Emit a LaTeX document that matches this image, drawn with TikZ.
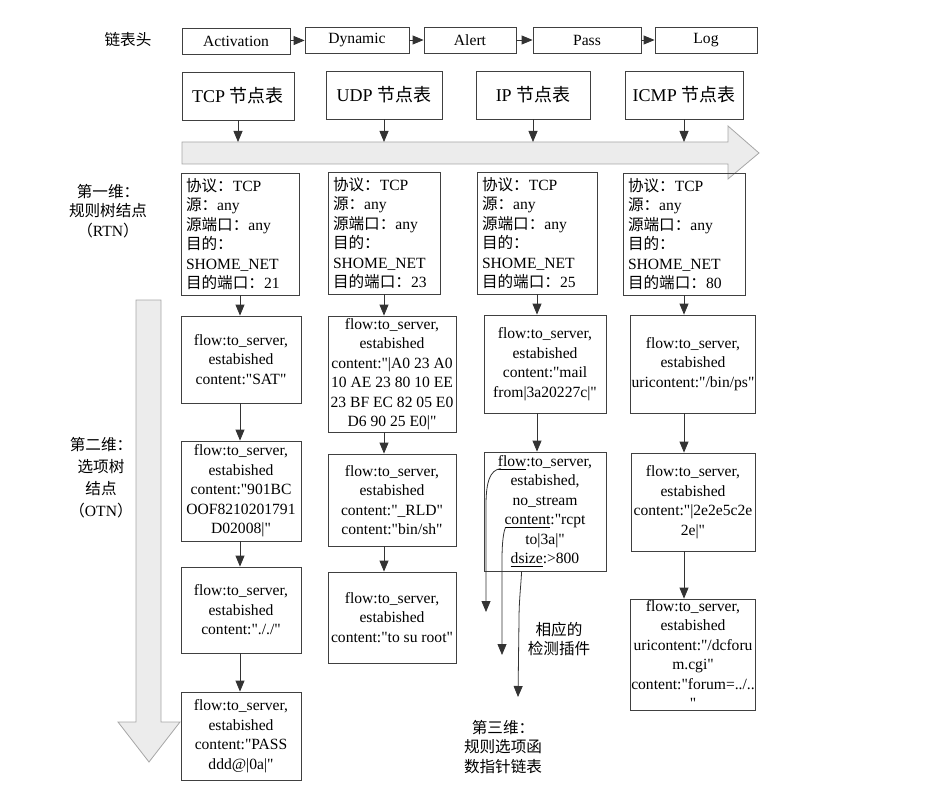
\documentclass[tikz,border=0pt]{standalone}
\usepackage{fontspec}
\setmainfont{Liberation Serif}
\newfontfamily\tnr{Liberation Serif}
\newfontfamily\cjk{Noto Sans CJK SC}
\usetikzlibrary{arrows.meta,calc}

\newcommand{\zh}[1]{{\cjk #1}}

\begin{document}
\begin{tikzpicture}[x=0.5pt, y=-0.5pt, >={Triangle[length=5.5pt,width=4.5pt]}]
    \tikzstyle{chainbox} = [rectangle, draw=black!75, line width=0.4pt, inner sep=0pt, minimum height=13pt, font=\tnr\fontsize{7.8}{9}\selectfont]
    \tikzstyle{headbox} = [rectangle, draw=black!75, line width=0.4pt, inner sep=0pt, minimum height=24pt, font=\tnr\fontsize{9}{11}\selectfont]
    \tikzstyle{rtnbox} = [rectangle, draw=black!75, line width=0.4pt, align=left, inner xsep=2.5pt, inner ysep=1.5pt, minimum height=61pt, font=\tnr\fontsize{7.8}{9.75}\selectfont]
    \tikzstyle{flowbox} = [rectangle, draw=black!75, line width=0.4pt, align=center, inner sep=0.5pt, font=\tnr\fontsize{7.8}{9.75}\selectfont]
    \tikzstyle{sidelabel} = [align=center, inner sep=0pt, font=\tnr\fontsize{7.8}{9.75}\selectfont]
    \tikzstyle{bigarrow} = [draw=gray!70, fill=gray!15, line width=0.4pt]
    \tikzstyle{link} = [->, draw=black!80, line width=0.4pt]

    \useasboundingbox (0,0) rectangle (932,797);

    % Linked list head
    \node[sidelabel] (listhead) at (128,40) {\zh{链表头}};
    \node[chainbox, minimum width=54pt] (act) at (236,41) {Activation};
    \node[chainbox, minimum width=52pt] (dyn) at (357,40) {Dynamic};
    \node[chainbox, minimum width=46pt] (alert) at (470,40) {Alert};
    \node[chainbox, minimum width=54pt] (pass) at (587,40) {Pass};
    \node[chainbox, minimum width=51pt] (logq) at (706,40) {Log};
    \foreach \a/\b in {act/dyn, dyn/alert, alert/pass, pass/logq}
        \draw[link] (\a) -- (\b);

    % Protocol node tables
    \node[headbox, minimum width=56pt] (tcph) at (238,96) {TCP \zh{节点表}};
    \node[headbox, minimum width=58pt] (udph) at (384,95) {UDP \zh{节点表}};
    \node[headbox, minimum width=57pt] (iph) at (533,95) {IP \zh{节点表}};
    \node[headbox, minimum width=59pt] (icmph) at (684,95) {ICMP \zh{节点表}};

    % Big arrows
    \draw[bigarrow] (182,142) -- (728,142) -- (728,126) -- (759,153) -- (728,179) -- (728,164) -- (182,164) -- cycle;
    \draw[bigarrow] (136,300) -- (161,300) -- (161,722) -- (180,722) -- (149,762) -- (118,722) -- (136,722) -- cycle;
    \coordinate (htop) at (0,142);
    \foreach \h in {tcph, udph, iph, icmph}
        \draw[link] (\h) -- (\h |- htop);

    % First dimension: rule tree nodes
    \node[sidelabel] (dim1) at (108,211) {\zh{第一维：}\\\zh{规则树结点}\\\zh{（}RTN\zh{）}};
    \node[rtnbox, text width=54pt] (r1) at (240,234) {\zh{协议：}TCP\\\zh{源：}any\\\zh{源端口：}any\\\zh{目的：}\\SHOME\_NET\\\zh{目的端口：}21};
    \node[rtnbox, text width=51pt] (r2) at (384,233) {\zh{协议：}TCP\\\zh{源：}any\\\zh{源端口：}any\\\zh{目的：}\\SHOME\_NET\\\zh{目的端口：}23};
    \node[rtnbox, text width=55pt] (r3) at (537,233) {\zh{协议：}TCP\\\zh{源：}any\\\zh{源端口：}any\\\zh{目的：}\\SHOME\_NET\\\zh{目的端口：}25};
    \node[rtnbox, text width=56pt] (r4) at (684,234) {\zh{协议：}TCP\\\zh{源：}any\\\zh{源端口：}any\\\zh{目的：}\\SHOME\_NET\\\zh{目的端口：}80};

    % Second dimension: option tree nodes
    \node[sidelabel, font=\tnr\fontsize{7.8}{11}\selectfont] (dim2) at (101,478) {\zh{第二维：}\\\zh{选项树}\\\zh{结点}\\\zh{（}OTN\zh{）}};

    % TCP column
    \node[flowbox, minimum width=60pt, minimum height=43.5pt] (f11) at (241,359.5) {flow:to\_server,\\estabished\\content:"SAT"};
    \node[flowbox, minimum width=60pt, minimum height=50pt] (f12) at (241,491) {flow:to\_server,\\estabished\\content:"901BC\\OOF8210201791\\D02008|"};
    \node[flowbox, minimum width=60pt, minimum height=43pt] (f13) at (241,610) {flow:to\_server,\\estabished\\content:"././"};
    \node[flowbox, minimum width=60pt, minimum height=44pt] (f14) at (241,736) {flow:to\_server,\\estabished\\content:"PASS\\ddd@|0a|"};

    % UDP column
    \node[flowbox, minimum width=64pt, minimum height=58pt] (f21) at (392,374) {flow:to\_server,\\estabished\\content:"|A0 23 A0\\10 AE 23 80 10 EE\\23 BF EC 82 05 E0\\D6 90 25 E0|"};
    \node[flowbox, minimum width=64pt, minimum height=46pt] (f22) at (392,500) {flow:to\_server,\\estabished\\content:"\_RLD"\\content:"bin/sh"};
    \node[flowbox, minimum width=64pt, minimum height=45.5pt] (f23) at (392,617.5) {flow:to\_server,\\estabished\\content:"to su root"};

    % IP column
    \node[flowbox, minimum width=61pt, minimum height=49pt] (f31) at (545,364) {flow:to\_server,\\estabished\\content:"mail\\from|3a20227c|"};
    \node[flowbox, minimum width=61pt, minimum height=59.5pt] (f32) at (545,511.5) {\underline{flow}:to\_server,\\estabished,\\no\_stream\\\underline{content}:"rcpt\\to|3a|"\\\underline{dsize}:>800};

    % ICMP column
    \node[flowbox, minimum width=62pt, minimum height=49pt] (f41) at (693,364) {flow:to\_server,\\estabished\\uricontent:"/bin/ps"};
    \node[flowbox, minimum width=62pt, minimum height=49pt] (f42) at (693,502) {flow:to\_server,\\estabished\\content:"|2e2e5c2e\\2e|"};
    \node[flowbox, minimum width=62pt, minimum height=55.5pt, inner ysep=0pt] (f43) at (693,654.5) {flow:to\_server,\\estabished\\uricontent:"/dcforu\\m.cgi"\\content:"forum=../..\\"};

    % Column links
    \draw[link] (r1) -- (r1 |- f11.north);
    \draw[link] (f11.south -| r1) -- (f12.north -| r1);
    \draw[link] (f12.south -| r1) -- (f13.north -| r1);
    \draw[link] (f13.south -| r1) -- (f14.north -| r1);
    \draw[link] (r2) -- (r2 |- f21.north);
    \draw[link] (f21.south -| r2) -- (f22.north -| r2);
    \draw[link] (f22.south -| r2) -- (f23.north -| r2);
    \draw[link] (r3) -- (r3 |- f31.north);
    \draw[link] (f31.south -| r3) -- (f32.north -| r3);
    \draw[link] (r4) -- (r4 |- f41.north);
    \draw[link] (f41.south -| r4) -- (f42.north -| r4);
    \draw[link] (f42.south -| r4) -- (f43.north -| r4);

    % Third dimension: option function pointers
    \coordinate (s1) at ($(f32.north west)+(17,17)$);
    \coordinate (s2) at ($(f32.north west)+(22,76)$);
    \coordinate (s3) at ($(f32.south west)+(38,0)$);
    \coordinate (plug1) at (486,612);
    \coordinate (plug2) at (502,655);
    \coordinate (plug3) at (518,697);
    \draw[link] (s1) .. controls (490,470) and (486,482) .. (486,505) -- (plug1);
    \draw[link] (s2) .. controls (504,530) and (502,540) .. (502,560) -- (plug2);
    \draw[link] (s3) .. controls (521,585) and (519,600) .. (519,620) -- (plug3);
    \node[sidelabel] (plugins) at (559,639) {\zh{相应的}\\\zh{检测插件}};
    \node[sidelabel] (dim3) at (503,747) {\zh{第三维：}\\\zh{规则选项函}\\\zh{数指针链表}};
\end{tikzpicture}
\end{document}
